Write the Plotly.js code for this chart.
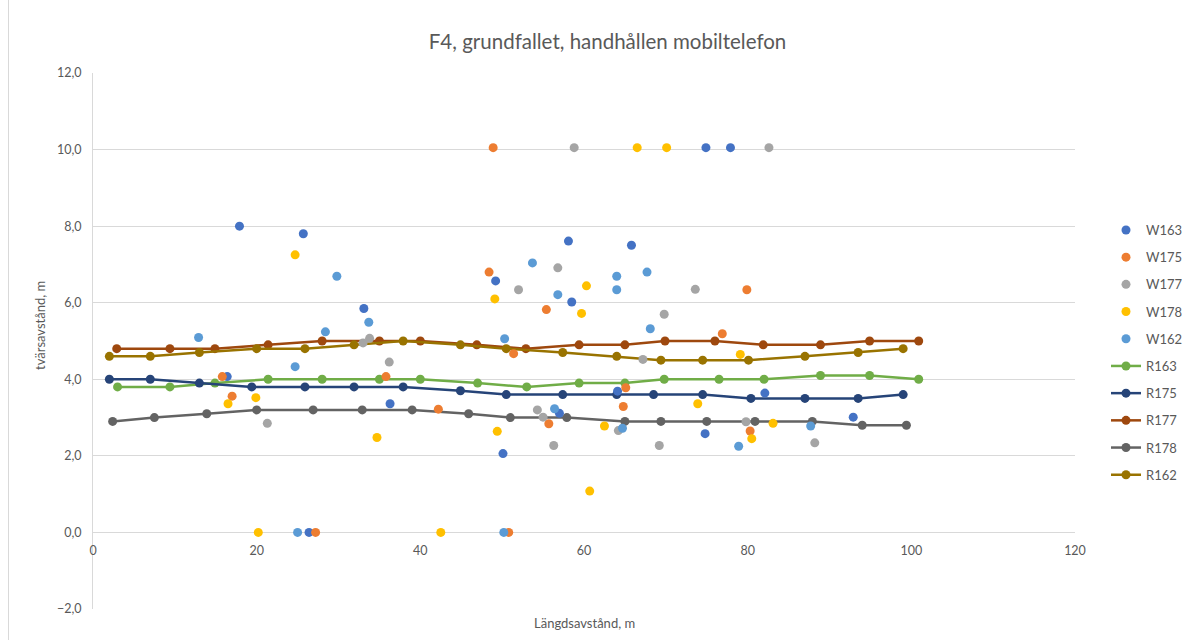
<!DOCTYPE html>
<html>
<head>
<meta charset="utf-8">
<script src="https://cdn.plot.ly/plotly-3.0.1.min.js"></script>
<style>
html,body{margin:0;padding:0;background:#fff;overflow:hidden;}
#wrap{position:relative;width:1182px;height:640px;}
#frame{position:absolute;left:8px;top:-2px;width:1200px;height:660px;border:1px solid #d9d9d9;box-sizing:border-box;pointer-events:none;}
#chart{position:absolute;left:0;top:0;width:1182px;height:640px;}
</style>
</head>
<body>
<div id="wrap"><div id="chart"></div><div id="frame"></div></div>
<script>
// ---- Data ----
const W163_x = [17.9, 25.7, 33.1, 16.4, 36.3, 49.2, 58.1, 58.5, 65.8, 64.1, 57.0, 50.1, 74.9, 77.9, 82.1, 74.8, 92.9, 26.4];
const W163_y = [8.0, 7.8, 5.85, 4.07, 3.36, 6.57, 7.61, 6.02, 7.5, 3.69, 3.11, 2.06, 10.05, 10.05, 3.64, 2.58, 3.01, 0.0];

const W175_x = [15.8, 17.0, 35.8, 48.4, 55.4, 51.4, 42.2, 55.7, 65.1, 64.8, 79.9, 76.9, 80.3, 48.9, 27.2, 50.8];
const W175_y = [4.07, 3.56, 4.07, 6.8, 5.82, 4.67, 3.22, 2.84, 3.78, 3.29, 6.34, 5.19, 2.65, 10.05, 0.0, 0.0];

const W177_x = [21.3, 33.0, 33.8, 36.2, 56.8, 52.0, 69.8, 67.2, 54.3, 55.0, 56.3, 64.2, 69.2, 73.6, 79.8, 88.2, 58.8, 82.6];
const W177_y = [2.85, 4.95, 5.07, 4.45, 6.91, 6.34, 5.7, 4.52, 3.2, 3.01, 2.27, 2.66, 2.27, 6.35, 2.89, 2.34, 10.05, 10.05];

const W178_x = [24.7, 16.5, 19.9, 34.7, 60.3, 49.1, 59.7, 49.4, 62.5, 79.1, 73.9, 80.5, 83.1, 60.7, 66.5, 70.1, 20.2, 42.5];
const W178_y = [7.25, 3.36, 3.52, 2.48, 6.44, 6.1, 5.72, 2.64, 2.78, 4.65, 3.36, 2.45, 2.85, 1.08, 10.05, 10.05, 0.0, 0.0];

const W162_x = [29.8, 33.7, 28.4, 12.9, 24.7, 53.7, 67.7, 64.0, 64.0, 56.8, 68.1, 50.3, 56.4, 64.7, 78.9, 87.7, 25.0, 50.2];
const W162_y = [6.69, 5.49, 5.24, 5.09, 4.33, 7.04, 6.8, 6.69, 6.34, 6.21, 5.32, 5.06, 3.23, 2.72, 2.25, 2.78, 0.0, 0.0];

const R163_x = [3.0, 9.4, 14.9, 21.4, 28.0, 35.0, 40.0, 47.0, 53.0, 59.4, 65.0, 69.8, 76.5, 82.0, 88.9, 94.9, 100.9];
const R163_y = [3.8, 3.8, 3.9, 4.0, 4.0, 4.0, 4.0, 3.9, 3.8, 3.9, 3.9, 4.0, 4.0, 4.0, 4.1, 4.1, 4.0];

const R175_x = [2.0, 7.0, 13.0, 19.4, 25.9, 31.9, 37.9, 44.9, 50.5, 57.4, 64.0, 68.5, 74.5, 80.4, 87.0, 93.5, 99.0];
const R175_y = [4.0, 4.0, 3.9, 3.8, 3.8, 3.8, 3.8, 3.7, 3.6, 3.6, 3.6, 3.6, 3.6, 3.5, 3.5, 3.5, 3.6];

const R177_x = [2.9, 9.4, 14.9, 21.4, 28.0, 35.0, 40.0, 46.9, 52.9, 59.4, 65.0, 69.9, 76.0, 81.9, 88.9, 94.9, 100.9];
const R177_y = [4.8, 4.8, 4.8, 4.9, 5.0, 5.0, 5.0, 4.9, 4.8, 4.9, 4.9, 5.0, 5.0, 4.9, 4.9, 5.0, 5.0];

const R178_x = [2.4, 7.5, 13.9, 20.0, 26.9, 32.9, 39.0, 45.9, 51.0, 57.9, 65.0, 69.4, 75.0, 80.9, 87.9, 94.0, 99.4];
const R178_y = [2.9, 3.0, 3.1, 3.2, 3.2, 3.2, 3.2, 3.1, 3.0, 3.0, 2.9, 2.9, 2.9, 2.9, 2.9, 2.8, 2.8];

const R162_x = [2.0, 7.0, 13.0, 20.0, 25.9, 31.9, 37.9, 44.9, 50.5, 57.4, 64.0, 69.4, 74.5, 80.1, 87.0, 93.5, 99.0];
const R162_y = [4.6, 4.6, 4.7, 4.8, 4.8, 4.9, 5.0, 4.9, 4.8, 4.7, 4.6, 4.5, 4.5, 4.5, 4.6, 4.7, 4.8];

const chartTitle = "F4, grundfallet, handhållen mobiltelefon";
const xTitle = "Längdsavstånd, m";
const yTitle = "tvärsavstånd, m";

// ---- Styling ----
const FONT = "Lato, 'Open Sans', sans-serif";
const TXT = "#595959";
const GRID = "#d9d9d9";

function wTrace(name, x, y, color, rank) {
  return {type: "scatter", mode: "markers", name: name, x: x, y: y,
    marker: {color: color, size: 9},
    legendgroup: name, legendrank: rank};
}
function rTrace(name, x, y, color, rank) {
  return {type: "scatter", mode: "lines+markers", name: name, x: x, y: y,
    line: {color: color, width: 2.5},
    marker: {color: color, size: 9},
    legendgroup: name, legendrank: rank};
}

const data = [
  rTrace("R163", R163_x, R163_y, "#70AD47", 6),
  rTrace("R175", R175_x, R175_y, "#264478", 7),
  rTrace("R177", R177_x, R177_y, "#9E480E", 8),
  rTrace("R178", R178_x, R178_y, "#636363", 9),
  rTrace("R162", R162_x, R162_y, "#997300", 10),
  wTrace("W163", W163_x, W163_y, "#4472C4", 1),
  wTrace("W175", W175_x, W175_y, "#ED7D31", 2),
  wTrace("W177", W177_x, W177_y, "#A5A5A5", 3),
  wTrace("W178", W178_x, W178_y, "#FFC000", 4),
  wTrace("W162", W162_x, W162_y, "#5B9BD5", 5)
];

const layout = {
  width: 1182, height: 640,
  margin: {l: 93, r: 107, t: 73, b: 31, autoexpand: false},
  paper_bgcolor: "#ffffff", plot_bgcolor: "#ffffff",
  font: {family: FONT, color: TXT, size: 12},
  separators: ", ",
  title: {text: chartTitle, x: 0.514, xref: "container", xanchor: "center",
          y: 1 - 42/640, yref: "container", yanchor: "middle",
          font: {family: FONT, size: 20.5, color: TXT}},
  xaxis: {range: [0, 120], dtick: 20, tick0: 0, showgrid: false, zeroline: false,
          showline: false, ticks: "", anchor: "free", position: 2/14,
          ticklabelstandoff: 9, automargin: false,
          tickfont: {family: FONT, size: 12.5, color: TXT}},
  yaxis: {range: [-2, 12], dtick: 2, tick0: 0, tickformat: ".1f",
          showgrid: true, gridcolor: GRID, gridwidth: 1, zeroline: false,
          showline: true, linecolor: GRID, linewidth: 1, ticks: "",
          ticklabelstandoff: 8, automargin: false,
          tickfont: {family: FONT, size: 12.5, color: TXT}},
  legend: {x: 1106/1182, xref: "container", xanchor: "left",
           y: 1 - 215/640, yref: "container", yanchor: "top",
           orientation: "v", traceorder: "grouped", tracegroupgap: 7.3,
           itemwidth: 30, bgcolor: "rgba(0,0,0,0)",
           font: {family: FONT, size: 13, color: TXT}},
  annotations: [
    {text: xTitle, xref: "paper", yref: "paper", x: 0.5, y: (609 - 623) / 536,
     xanchor: "center", yanchor: "middle", showarrow: false,
     font: {family: FONT, size: 13, color: TXT}},
    {text: yTitle, xref: "paper", yref: "paper", x: (40 - 93) / 982, y: 1 - (326 - 73) / 536,
     xanchor: "center", yanchor: "middle", showarrow: false, textangle: -90,
     font: {family: FONT, size: 13, color: TXT}}
  ],
  showlegend: true
};

Plotly.newPlot("chart", data, layout, {displayModeBar: false, staticPlot: true});
</script>
</body>
</html>
